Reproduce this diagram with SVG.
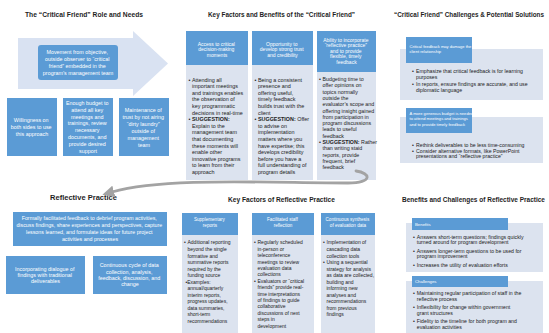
<svg xmlns="http://www.w3.org/2000/svg" width="549" height="333" viewBox="0 0 549 333">
<style>
text{font-family:"Liberation Sans",Arial,sans-serif}
.title{font-size:6.7px;font-weight:bold;fill:#1e1e1e;text-anchor:middle}
.blue{fill:#5b9bd5}
.panel{fill:#dce3ef}
.wc{fill:#ffffff;text-anchor:middle}
.wl{fill:#ffffff}
.body{fill:#222222}
.sg{font-weight:bold}
.conn{fill:none;stroke:#a3a3a3;stroke-width:2.8;stroke-linecap:round}
</style>
<defs>
<marker id="ah" markerUnits="userSpaceOnUse" markerWidth="12" markerHeight="12" refX="2" refY="6" orient="auto">
<path d="M0,0 L12,6 L0,12 Z" fill="#a3a3a3"/>
</marker>
</defs>
<rect width="549" height="333" fill="#ffffff"/>

<!-- Titles -->
<text class="title" x="84" y="17" textLength="118" lengthAdjust="spacingAndGlyphs">The “Critical Friend” Role and Needs</text>
<text class="title" x="281.5" y="17" textLength="147" lengthAdjust="spacingAndGlyphs">Key Factors and Benefits of the “Critical Friend”</text>
<text class="title" x="394" y="17" style="text-anchor:start;font-size:6.3px" textLength="150" lengthAdjust="spacingAndGlyphs">“Critical Friend” Challenges &amp; Potential Solutions</text>
<text class="title" x="83.5" y="200" textLength="67" lengthAdjust="spacingAndGlyphs">Reflective Practice</text>
<text class="title" x="281.5" y="202" textLength="107" lengthAdjust="spacingAndGlyphs">Key Factors of Reflective Practice</text>
<text class="title" x="473.5" y="202" textLength="143" lengthAdjust="spacingAndGlyphs">Benefits and Challenges of Reflective Practice</text>

<!-- Top-left -->
<g id="big-arrow">
<polygon points="18,38 133,38 133,31 168,63.5 133,96 133,89 18,89" fill="#d9e2f2"/>
</g>
<g id="movement">
<rect class="blue" x="38" y="45" width="80" height="35" rx="3"/>
<text class="wc" font-size="5.4">
<tspan x="78" y="54.2">Movement from objective,</tspan>
<tspan x="78" y="61">outside observer to “critical</tspan>
<tspan x="78" y="67.8">friend” embedded in the</tspan>
<tspan x="78" y="74.6">program’s management team</tspan>
</text>
</g>
<g id="willingness">
<rect class="blue" x="7" y="98" width="50" height="58"/>
<text class="wc" font-size="5.4">
<tspan x="32" y="122">Willingness on</tspan>
<tspan x="32" y="128.9">both sides to use</tspan>
<tspan x="32" y="135.8">this approach</tspan>
</text>
</g>
<g id="budget">
<rect class="blue" x="63" y="98" width="50" height="58"/>
<text class="wc" font-size="5.4">
<tspan x="88" y="104.75">Enough budget to</tspan>
<tspan x="88" y="111.65">attend all key</tspan>
<tspan x="88" y="118.55">meetings and</tspan>
<tspan x="88" y="125.45">trainings, review</tspan>
<tspan x="88" y="132.35">necessary</tspan>
<tspan x="88" y="139.25">documents, and</tspan>
<tspan x="88" y="146.15">provide desired</tspan>
<tspan x="88" y="153.05">support</tspan>
</text>
</g>
<g id="trust">
<rect class="blue" x="119" y="98" width="50" height="58"/>
<text class="wc" font-size="5.4">
<tspan x="144" y="112.15">Maintenance of</tspan>
<tspan x="144" y="119.05">trust by not airing</tspan>
<tspan x="144" y="125.95">“dirty laundry”</tspan>
<tspan x="144" y="132.85">outside of</tspan>
<tspan x="144" y="139.75">management</tspan>
<tspan x="144" y="146.65">team</tspan>
</text>
</g>

<!-- Top-middle -->
<g id="access">
<rect class="panel" x="186" y="31" width="62" height="149"/>
<rect class="blue" x="186" y="31" width="62" height="34"/>
<text class="wc" font-size="5">
<tspan x="217" y="45.8">Access to critical</tspan>
<tspan x="217" y="51.3">decision-making</tspan>
<tspan x="217" y="56.8">moments</tspan>
</text>
<text class="body" font-size="5.4">
<tspan x="188.5" y="81.5">•</tspan><tspan x="192">Attending all</tspan>
<tspan x="192" y="88.1">important meetings</tspan>
<tspan x="192" y="94.7">and trainings enables</tspan>
<tspan x="192" y="101.3">the observation of</tspan>
<tspan x="192" y="107.9">key programmatic</tspan>
<tspan x="192" y="114.5">decisions in real-time</tspan>
<tspan x="188.5" y="121.1">•</tspan><tspan x="192" class="sg">SUGGESTION:</tspan>
<tspan x="192" y="127.7">Explain to the</tspan>
<tspan x="192" y="134.3">management team</tspan>
<tspan x="192" y="140.9">that documenting</tspan>
<tspan x="192" y="147.5">these moments will</tspan>
<tspan x="192" y="154.1">enable other</tspan>
<tspan x="192" y="160.7">innovative programs</tspan>
<tspan x="192" y="167.3">to learn from their</tspan>
<tspan x="192" y="173.9">approach</tspan>
</text>
</g>
<g id="opportunity">
<rect class="panel" x="252" y="31" width="61" height="149"/>
<rect class="blue" x="252" y="31" width="61" height="34"/>
<text class="wc" font-size="5">
<tspan x="282.5" y="45.8">Opportunity to</tspan>
<tspan x="282.5" y="51.3">develop strong trust</tspan>
<tspan x="282.5" y="56.8">and credibility</tspan>
</text>
<text class="body" font-size="5.4">
<tspan x="254.5" y="81.5">•</tspan><tspan x="258">Being a consistent</tspan>
<tspan x="258" y="88.1">presence and</tspan>
<tspan x="258" y="94.7">offering useful,</tspan>
<tspan x="258" y="101.3">timely feedback</tspan>
<tspan x="258" y="107.9">builds trust with the</tspan>
<tspan x="258" y="114.5">client</tspan>
<tspan x="254.5" y="121.1">•</tspan><tspan x="258"><tspan class="sg">SUGGESTION:</tspan> Offer</tspan>
<tspan x="258" y="127.7">to advise on</tspan>
<tspan x="258" y="134.3">implementation</tspan>
<tspan x="258" y="140.9">matters where you</tspan>
<tspan x="258" y="147.5">have expertise; this</tspan>
<tspan x="258" y="154.1">develops credibility</tspan>
<tspan x="258" y="160.7">before you have a</tspan>
<tspan x="258" y="167.3">full understanding of</tspan>
<tspan x="258" y="173.9">program details</tspan>
</text>
</g>
<g id="ability">
<rect class="panel" x="317" y="31" width="59" height="149"/>
<rect class="blue" x="317" y="31" width="59" height="41"/>
<text class="wc" font-size="5">
<tspan x="346.5" y="41.8">Ability to incorporate</tspan>
<tspan x="346.5" y="47.3">“reflective practice”</tspan>
<tspan x="346.5" y="52.8">and to provide</tspan>
<tspan x="346.5" y="58.3">flexible, timely</tspan>
<tspan x="346.5" y="63.8">feedback</tspan>
</text>
<text class="body" font-size="5.3">
<tspan x="319" y="81">•</tspan><tspan x="322.5">Budgeting time to</tspan>
<tspan x="322.5" y="87.3">offer opinions on</tspan>
<tspan x="322.5" y="93.6">topics normally</tspan>
<tspan x="322.5" y="99.9">outside the</tspan>
<tspan x="322.5" y="106.2">evaluator’s scope and</tspan>
<tspan x="322.5" y="112.5">offering insight gained</tspan>
<tspan x="322.5" y="118.8">from participation in</tspan>
<tspan x="322.5" y="125.1">program discussions</tspan>
<tspan x="322.5" y="131.4">leads to useful</tspan>
<tspan x="322.5" y="137.7">feedback</tspan>
<tspan x="319" y="144">•</tspan><tspan x="322.5"><tspan class="sg">SUGGESTION:</tspan> Rather</tspan>
<tspan x="322.5" y="150.3">than writing staid</tspan>
<tspan x="322.5" y="156.6">reports, provide</tspan>
<tspan x="322.5" y="162.9">frequent, brief</tspan>
<tspan x="322.5" y="169.2">feedback</tspan>
</text>
</g>

<!-- Top-right -->
<g id="critical-feedback">
<rect class="panel" x="400" y="49" width="143" height="51"/>
<rect class="blue" x="406" y="37" width="66" height="26"/>
<text class="wl" font-size="4.1">
<tspan x="409.5" y="48.2">Critical feedback may damage the</tspan>
<tspan x="409.5" y="53.4">client relationship</tspan>
</text>
<text class="body" font-size="5.2">
<tspan x="412" y="73.4">•</tspan><tspan x="416">Emphasize that critical feedback is for learning</tspan>
<tspan x="416" y="79.4">purposes</tspan>
<tspan x="412" y="86.4">•</tspan><tspan x="416">In reports, ensure findings are accurate, and use</tspan>
<tspan x="416" y="92.4">diplomatic language</tspan>
</text>
</g>
<g id="generous-budget">
<rect class="panel" x="400" y="117" width="143" height="46"/>
<rect class="blue" x="406" y="108" width="66" height="25"/>
<text class="wl" font-size="4.1">
<tspan x="409.5" y="114.5">A more generous budget is needed</tspan>
<tspan x="409.5" y="120">to attend meetings and trainings</tspan>
<tspan x="409.5" y="125.5">and to provide timely feedback</tspan>
</text>
<text class="body" font-size="5.2">
<tspan x="412" y="147.4">•</tspan><tspan x="416">Rethink deliverables to be less time-consuming</tspan>
<tspan x="412" y="152.8">•</tspan><tspan x="416">Consider alternative formats, like PowerPoint</tspan>
<tspan x="416" y="158">presentations and “reflective practice”</tspan>
</text>
</g>

<!-- Bottom-left -->
<g id="formally">
<rect class="blue" x="13" y="212" width="154" height="34"/>
<text class="wc" font-size="5.3">
<tspan x="90" y="220.3">Formally facilitated feedback to debrief program activities,</tspan>
<tspan x="90" y="227.3">discuss findings, share experiences and perspectives, capture</tspan>
<tspan x="90" y="234.3">lessons learned, and formulate ideas for future project</tspan>
<tspan x="90" y="241.3">activities and processes</tspan>
</text>
</g>
<g id="incorporating">
<rect class="blue" x="6" y="256" width="79" height="38"/>
<text class="wc" font-size="5.4">
<tspan x="45.5" y="270.5">Incorporating dialogue of</tspan>
<tspan x="45.5" y="276.8">findings with traditional</tspan>
<tspan x="45.5" y="283.1">deliverables</tspan>
</text>
</g>
<g id="continuous-cycle">
<rect class="blue" x="93" y="256" width="74" height="38"/>
<text class="wc" font-size="5.4">
<tspan x="130" y="267.4">Continuous cycle of data</tspan>
<tspan x="130" y="273.7">collection, analysis,</tspan>
<tspan x="130" y="280">feedback, discussion, and</tspan>
<tspan x="130" y="286.3">change</tspan>
</text>
</g>

<!-- Bottom-middle -->
<g id="supplementary">
<rect class="panel" x="182" y="213" width="56" height="120"/>
<rect class="blue" x="182" y="213" width="56" height="22"/>
<text class="wc" font-size="4.6">
<tspan x="210" y="221.2">Supplementary</tspan>
<tspan x="210" y="226.7">reports</tspan>
</text>
<text class="body" font-size="5">
<tspan x="184" y="244.4">•</tspan><tspan x="187.5">Additional reporting</tspan>
<tspan x="187.5" y="250.95">beyond the single</tspan>
<tspan x="187.5" y="257.5">formative and</tspan>
<tspan x="187.5" y="264.05">summative reports</tspan>
<tspan x="187.5" y="270.6">required by the</tspan>
<tspan x="187.5" y="277.15">funding source</tspan>
<tspan x="185.5" y="283.7">•Examples:</tspan>
<tspan x="187.5" y="290.25">annual/quarterly</tspan>
<tspan x="187.5" y="296.8">interim reports,</tspan>
<tspan x="187.5" y="303.35">progress updates,</tspan>
<tspan x="187.5" y="309.9">data summaries,</tspan>
<tspan x="187.5" y="316.45">short-term</tspan>
<tspan x="187.5" y="323">recommendations</tspan>
</text>
</g>
<g id="facilitated">
<rect class="panel" x="252" y="213" width="62" height="120"/>
<rect class="blue" x="252" y="213" width="62" height="22"/>
<text class="wc" font-size="4.6">
<tspan x="283" y="221.2">Facilitated staff</tspan>
<tspan x="283" y="226.7">reflection</tspan>
</text>
<text class="body" font-size="5">
<tspan x="254" y="244.4">•</tspan><tspan x="257.5">Regularly scheduled</tspan>
<tspan x="257.5" y="250.8">in-person or</tspan>
<tspan x="257.5" y="257.2">teleconference</tspan>
<tspan x="257.5" y="263.6">meetings to review</tspan>
<tspan x="257.5" y="270">evaluation data</tspan>
<tspan x="257.5" y="276.4">collections</tspan>
<tspan x="254" y="282.8">•</tspan><tspan x="257.5">Evaluators or “critical</tspan>
<tspan x="257.5" y="289.2">friends” provide real-</tspan>
<tspan x="257.5" y="295.6">time interpretations</tspan>
<tspan x="257.5" y="302">of findings to guide</tspan>
<tspan x="257.5" y="308.4">collaborative</tspan>
<tspan x="257.5" y="314.8">discussions of next</tspan>
<tspan x="257.5" y="321.2">steps in</tspan>
<tspan x="257.5" y="327.6">development</tspan>
</text>
</g>
<g id="synthesis">
<rect class="panel" x="321" y="213" width="54" height="120"/>
<rect class="blue" x="321" y="213" width="54" height="22"/>
<text class="wc" font-size="4.6">
<tspan x="348" y="221.2">Continuous synthesis</tspan>
<tspan x="348" y="226.7">of evaluation data</tspan>
</text>
<text class="body" font-size="5">
<tspan x="323" y="244.4">•</tspan><tspan x="326.5">Implementation of</tspan>
<tspan x="326.5" y="250.95">cascading data</tspan>
<tspan x="326.5" y="257.5">collection tools</tspan>
<tspan x="323" y="264.05">•</tspan><tspan x="326.5">Using a sequential</tspan>
<tspan x="326.5" y="270.6">strategy for analysis</tspan>
<tspan x="326.5" y="277.15">as data are collected,</tspan>
<tspan x="326.5" y="283.7">building and</tspan>
<tspan x="326.5" y="290.25">informing new</tspan>
<tspan x="326.5" y="296.8">analyses and</tspan>
<tspan x="326.5" y="303.35">recommendations</tspan>
<tspan x="326.5" y="309.9">from previous</tspan>
<tspan x="326.5" y="316.45">findings</tspan>
</text>
</g>

<!-- Bottom-right -->
<g id="benefits">
<rect class="panel" x="406" y="223" width="137" height="49"/>
<rect class="blue" x="412" y="218" width="96" height="12"/>
<text class="wl" font-size="4.3" x="415" y="225.6">Benefits</text>
<text class="body" font-size="5.2">
<tspan x="413" y="238.8">•</tspan><tspan x="416.8">Answers short-term questions; findings quickly</tspan>
<tspan x="416.8" y="244.1">turned around for program development</tspan>
<tspan x="413" y="252.6">•</tspan><tspan x="416.8">Answers longer-term questions to be used for</tspan>
<tspan x="416.8" y="257.9">program improvement</tspan>
<tspan x="413" y="266.6">•</tspan><tspan x="416.8">Increases the utility of evaluation efforts</tspan>
</text>
</g>
<g id="challenges">
<rect class="panel" x="406" y="281" width="137" height="52"/>
<rect class="blue" x="412" y="276" width="96" height="11"/>
<text class="wl" font-size="4.3" x="415" y="283.2">Challenges</text>
<text class="body" font-size="5.2">
<tspan x="413" y="294.8">•</tspan><tspan x="416.8">Maintaining regular participation of staff in the</tspan>
<tspan x="416.8" y="300.5">reflective process</tspan>
<tspan x="413" y="308.8">•</tspan><tspan x="416.8">Inflexibility for change within government</tspan>
<tspan x="416.8" y="314.5">grant structures</tspan>
<tspan x="413" y="322.8">•</tspan><tspan x="416.8">Fidelity to the timeline for both program and</tspan>
<tspan x="416.8" y="328.5">evaluation activities</tspan>
</text>
</g>

<!-- Connectors -->
<g id="connectors">
<path class="conn" d="M 356 171 C 371 173, 373 183, 348 183 C 270 183, 165 177, 112 192" marker-end="url(#ah)"/>
</g>
</svg>
